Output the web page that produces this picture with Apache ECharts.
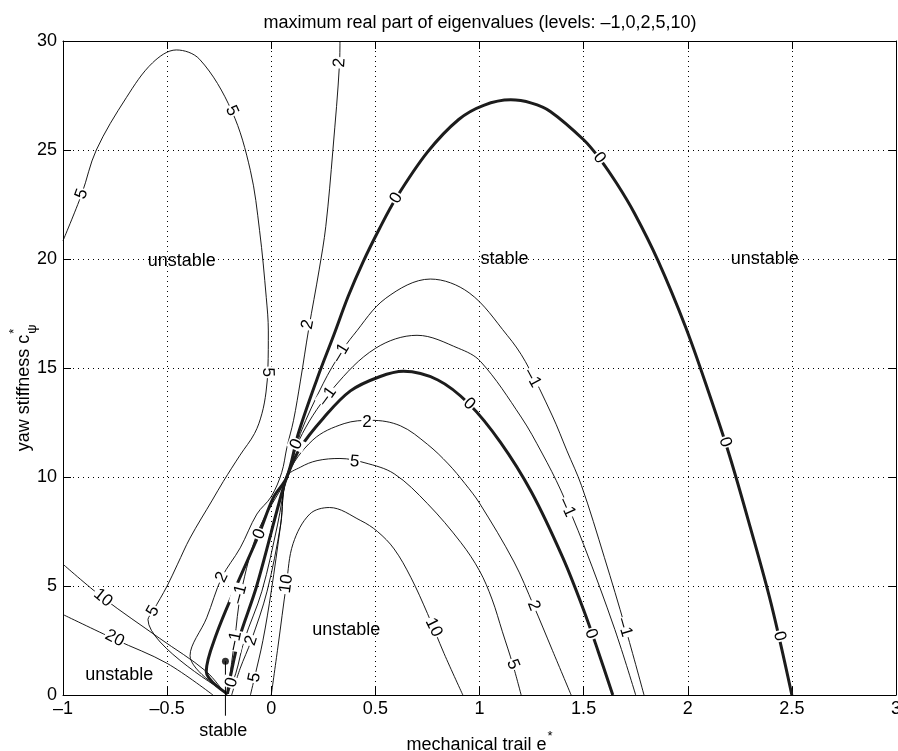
<!DOCTYPE html>
<html><head><meta charset="utf-8">
<script src="https://cdn.jsdelivr.net/npm/echarts@6/dist/echarts.min.js"></script>
<style>html,body{margin:0;padding:0;background:#fff}#c{width:898px;height:751px}</style>
</head><body><div id="c"></div>
<script>
const FONT = '"Liberation Sans", Arial, Helvetica, sans-serif';

// ---- axis ticks ----
const xTicks = [-1, -0.5, 0, 0.5, 1, 1.5, 2, 2.5, 3];
const yTicks = [0, 5, 10, 15, 20, 25, 30];

// ---- contour lines (x = mechanical trail, y = yaw stiffness) ----
const level5Loop = [[-1,20.84],[-0.91,22.98],[-0.84,25.0],[-0.696,27.4],[-0.57,29.0],[-0.456,29.59],[-0.344,29.16],[-0.19,26.8],[-0.10,24.05],[-0.056,21.3],[-0.024,18.24],[-0.014,16.7],[-0.016,15.0],[-0.025,13.9],[-0.045,12.9],[-0.08,12.0],[-0.15,11.0],[-0.23,9.8],[-0.283,8.94],[-0.39,7.2],[-0.45,6.0],[-0.5,5.0],[-0.568,3.85],[-0.592,3.46],[-0.215,0.1]];
const level5Inner = [[-0.10,0],[-0.08,0.81],[-0.04,2.5],[0.0,4.76],[0.045,7.8],[0.075,10.0],[0.14,10.45],[0.22,10.75],[0.33,10.85],[0.45,10.65],[0.59,10.15],[0.75,8.78],[0.91,7.0],[1.0,5.7],[1.06,4.4],[1.11,2.9],[1.16,1.4],[1.2,0]];
const level2Upper = [[0.33,30],[0.328,29.0],[0.296,25.0],[0.262,21.5],[0.23,19.5],[0.18,16.8],[0.14,14.4],[0.107,12.6],[0.075,11.35],[0.05,10.2],[0.0,9.1],[-0.069,8.3],[-0.149,6.75],[-0.237,5.4],[-0.31,3.54],[-0.39,1.8],[-0.21,0.05]];
const level2Inner = [[-0.19,0],[-0.15,1.2],[-0.096,2.5],[-0.02,4.76],[0.045,7.8],[0.075,10.0],[0.2,11.7],[0.35,12.45],[0.48,12.6],[0.62,12.35],[0.75,11.5],[0.85,10.6],[0.93,9.7],[1.0,8.8],[1.166,6.1],[1.26,4.1],[1.35,2.05],[1.44,0]];
const level0Outer = [[-0.21,0.05],[-0.312,1.08],[-0.264,2.77],[-0.168,5.0],[-0.06,7.35],[0.01,9.05],[0.075,10.0],[0.13,12.0],[0.22,14.5],[0.30,16.5],[0.37,18.3],[0.44,19.85],[0.52,21.4],[0.6,22.8],[0.75,24.9],[0.9,26.4],[1.02,27.05],[1.15,27.3],[1.25,27.15],[1.34,26.77],[1.5,25.47],[1.575,24.63],[1.66,23.45],[1.744,22.1],[1.856,19.95],[1.99,16.87],[2.1,13.9],[2.2,11.0],[2.3,7.7],[2.4,4.2],[2.5,0]];
const level0Inner = [[-0.21,0.05],[-0.2,0.66],[-0.157,2.5],[-0.07,5.0],[0.04,8.9],[0.075,10.0],[0.14,11.35],[0.25,12.7],[0.38,13.95],[0.52,14.6],[0.635,14.85],[0.8,14.45],[0.95,13.35],[1.1,11.6],[1.25,9.3],[1.4,6.3],[1.5,3.9],[1.57,2.0],[1.64,0]];
const levelM1Outer = [[-0.21,0.05],[-0.19,1.5],[-0.176,2.49],[-0.145,4.7],[-0.06,7.6],[0.075,10.0],[0.14,12.0],[0.25,14.3],[0.334,15.7],[0.394,16.5],[0.55,18.2],[0.764,19.08],[0.95,18.45],[1.133,16.5],[1.22,15.3],[1.35,12.8],[1.42,11.2],[1.49,9.6],[1.6,6.3],[1.7,3.1],[1.79,0]];
const levelM1Inner = [[-0.21,0.05],[-0.17,1.0],[-0.13,2.5],[-0.045,4.76],[0.03,7.8],[0.075,10.0],[0.15,12.0],[0.3,14.1],[0.5,15.9],[0.7,16.5],[0.9,15.9],[1.005,15.3],[1.2,12.75],[1.3,11.1],[1.39,9.4],[1.5,6.9],[1.65,3.0],[1.75,0]];
const level10Arch = [[0,0],[0.032,2.2],[0.073,5.1],[0.105,6.95],[0.185,8.3],[0.28,8.6],[0.43,8.0],[0.51,7.5],[0.59,6.7],[0.67,5.4],[0.75,3.74],[0.83,1.9],[0.92,0]];
const level10Left = [[-1,6.0],[-0.808,4.46],[-0.536,2.6],[-0.312,1.08],[-0.224,0.08]];
const level20Left = [[-1,3.69],[-0.75,2.55],[-0.5,1.45],[-0.28,0]];

// ---- inline contour labels: [x, y, text] ----
const contourLabels = [
  [-0.91,22.98,'5'],[-0.19,26.8,'5'],[-0.016,14.8,'5'],[-0.568,3.85,'5'],
  [-0.808,4.46,'10'],[-0.752,2.6,'20'],
  [0.328,29.0,'2'],[0.176,17.0,'2'],[-0.237,5.4,'2'],
  [-0.056,7.38,'0'],[0.6,22.8,'0'],[1.575,24.63,'0'],[2.18,11.6,'0'],[2.44,2.7,'0'],
  [0.95,13.35,'0'],[1.535,2.8,'0'],[0.121,11.5,'0'],[-0.19,0.58,'0'],
  [1.254,14.54,'–1'],[1.42,8.6,'–1'],[1.696,3.1,'–1'],[0.334,15.7,'–1'],[0.27,13.7,'–1'],
  [-0.152,4.63,'–1'],[-0.176,2.49,'–1'],
  [0.46,12.52,'2'],[1.26,4.1,'2'],[-0.096,2.5,'2'],
  [0.40,10.7,'5'],[1.16,1.4,'5'],[-0.08,0.81,'5'],
  [0.073,5.1,'10'],[0.78,3.1,'10']
];
// label angles (style), same order
const contourLabelAngles = [70,-65,-88,60,-39,-28,86,79,64,67,60,-53,-73,-76,-44,-70,65,75,-62,-66,-74,59,54,75,78,0,-68,72,-5,-68,78,82,-64];

// ---- region annotations: [text, x, y] ----
const regionLabels = [['unstable',-0.43,19.9],['stable',1.12,20.0],['unstable',2.37,20.0],['unstable',0.36,3.0],['unstable',-0.73,0.92]];
const stableDot = [-0.22, 1.55];
const stableStemEnd = [-0.22, -0.95];
const stableBelow = ['stable', -0.23, -1.65];

const titleText = 'maximum real part of eigenvalues (levels: –1,0,2,5,10)';

const fmt = v => (v < 0 ? '–' + Math.abs(v) : String(v));

function lineSeries(data, thick) {
  return {type:'line', data: data, showSymbol:false, symbol:'none', smooth:0.35, silent:true, animation:false,
    z: thick ? 3 : 2, lineStyle:{color: thick ? '#1c1c1c' : '#000', width: thick ? 3 : 0.9}};
}
const textLabelBase = {show:true, position:[0,0], align:'center', verticalAlign:'middle', formatter:p=>p.name,
  color:'#000', fontFamily:FONT, textBorderWidth:0, textShadowBlur:0, opacity:1};

const series = [
  lineSeries(level5Loop,false), lineSeries(level5Inner,false),
  lineSeries(level2Upper,false), lineSeries(level2Inner,false),
  lineSeries(level0Outer,true), lineSeries(level0Inner,true),
  lineSeries(levelM1Outer,false), lineSeries(levelM1Inner,false),
  lineSeries(level10Arch,false), lineSeries(level10Left,false), lineSeries(level20Left,false),
  {type:'line', data:[stableDot, stableStemEnd], showSymbol:false, symbol:'none', clip:false, silent:true, animation:false,
    lineStyle:{color:'#000', width:1}, z:4},
  {type:'scatter', data:[stableDot], symbol:'circle', symbolSize:7, itemStyle:{color:'#000'}, silent:true, animation:false, z:5},
  {type:'scatter', data: contourLabels.map((d,i)=>({value:[d[0],d[1]], name:d[2], label:{rotate:contourLabelAngles[i]}})),
    symbol:'circle', symbolSize:0.01, itemStyle:{color:'#000', opacity:1}, silent:true, animation:false, z:6,
    label:Object.assign({}, textLabelBase, {fontSize:17, backgroundColor:'#fff', padding:[0,1]})},
  {type:'scatter', data: regionLabels.map(d=>({value:[d[1],d[2]], name:d[0]})).concat([{value:[stableBelow[1],stableBelow[2]], name:stableBelow[0]}]),
    symbol:'circle', symbolSize:0.01, itemStyle:{color:'#000', opacity:1}, silent:true, animation:false, clip:false, z:6,
    label:Object.assign({}, textLabelBase, {fontSize:18})}
];

// measure for axis titles
const cv = document.createElement('canvas').getContext('2d');
function tw(t, s){ cv.font = s + 'px ' + FONT; return cv.measureText(t).width; }
const yMain = 'yaw stiffness c', xMain = 'mechanical trail e';
const yW = tw(yMain,18), xW = tw(xMain,18);
const yTot = yW + 10, xTot = xW + 7;

const option = {
  animation:false,
  backgroundColor:'#fff',
  grid:{left:63, right:2, top:41, bottom:56, containLabel:false, outerBoundsMode:'none'},
  xAxis:[
    {type:'value', min:xTicks[0], max:xTicks[xTicks.length-1], interval:0.5, position:'bottom',
      axisLine:{show:true, onZero:false, lineStyle:{color:'#000', width:1}},
      axisTick:{show:true, inside:true, length:8, lineStyle:{color:'#000'}},
      axisLabel:{show:true, color:'#000', fontSize:18, fontFamily:FONT, margin:5, formatter:fmt, showMinLabel:true, showMaxLabel:true, hideOverlap:false},
      splitLine:{show:true, lineStyle:{color:'#000', type:[1,4], width:1}}},
    {type:'value', min:xTicks[0], max:xTicks[xTicks.length-1], interval:0.5, position:'top',
      axisLine:{show:true, onZero:false, lineStyle:{color:'#000', width:1}},
      axisTick:{show:true, inside:true, length:8, lineStyle:{color:'#000'}},
      axisLabel:{show:false}, splitLine:{show:false}}
  ],
  yAxis:[
    {type:'value', min:yTicks[0], max:yTicks[yTicks.length-1], interval:5, position:'left',
      axisLine:{show:true, onZero:false, lineStyle:{color:'#000', width:1}},
      axisTick:{show:true, inside:true, length:8, lineStyle:{color:'#000'}},
      axisLabel:{show:true, color:'#000', fontSize:18, fontFamily:FONT, margin:6, formatter:fmt, showMinLabel:true, showMaxLabel:true, hideOverlap:false},
      splitLine:{show:true, lineStyle:{color:'#000', type:[1,4], width:1}}},
    {type:'value', min:yTicks[0], max:yTicks[yTicks.length-1], interval:5, position:'right',
      axisLine:{show:true, onZero:false, lineStyle:{color:'#000', width:1}},
      axisTick:{show:true, inside:true, length:8, lineStyle:{color:'#000'}},
      axisLabel:{show:false}, splitLine:{show:false}}
  ],
  series: series,
  graphic:[
    {type:'text', x:480, y:23, style:{text:titleText, font:'18px '+FONT, fill:'#000', textAlign:'center', textVerticalAlign:'middle'}},
    {type:'group', x:480, y:745, children:[
      {type:'text', x:-xTot/2, y:0, style:{text:xMain, font:'18px '+FONT, fill:'#000', textAlign:'left', textVerticalAlign:'middle'}},
      {type:'text', x:-xTot/2 + xW + 1, y:-9, style:{text:'*', font:'13px '+FONT, fill:'#000', textAlign:'left', textVerticalAlign:'middle'}}
    ]},
    {type:'group', x:24, y:388, rotation:Math.PI/2, children:[
      {type:'text', x:-yTot/2, y:0, style:{text:yMain, font:'18px '+FONT, fill:'#000', textAlign:'left', textVerticalAlign:'middle'}},
      {type:'text', x:-yTot/2 + yW + 1, y:-10, style:{text:'*', font:'13px '+FONT, fill:'#000', textAlign:'left', textVerticalAlign:'middle'}},
      {type:'text', x:-yTot/2 + yW + 1, y:8, style:{text:'ψ', font:'13px '+FONT, fill:'#000', textAlign:'left', textVerticalAlign:'middle'}}
    ]}
  ]
};
const chart = echarts.init(document.getElementById('c'));
chart.setOption(option);
</script></body></html>
